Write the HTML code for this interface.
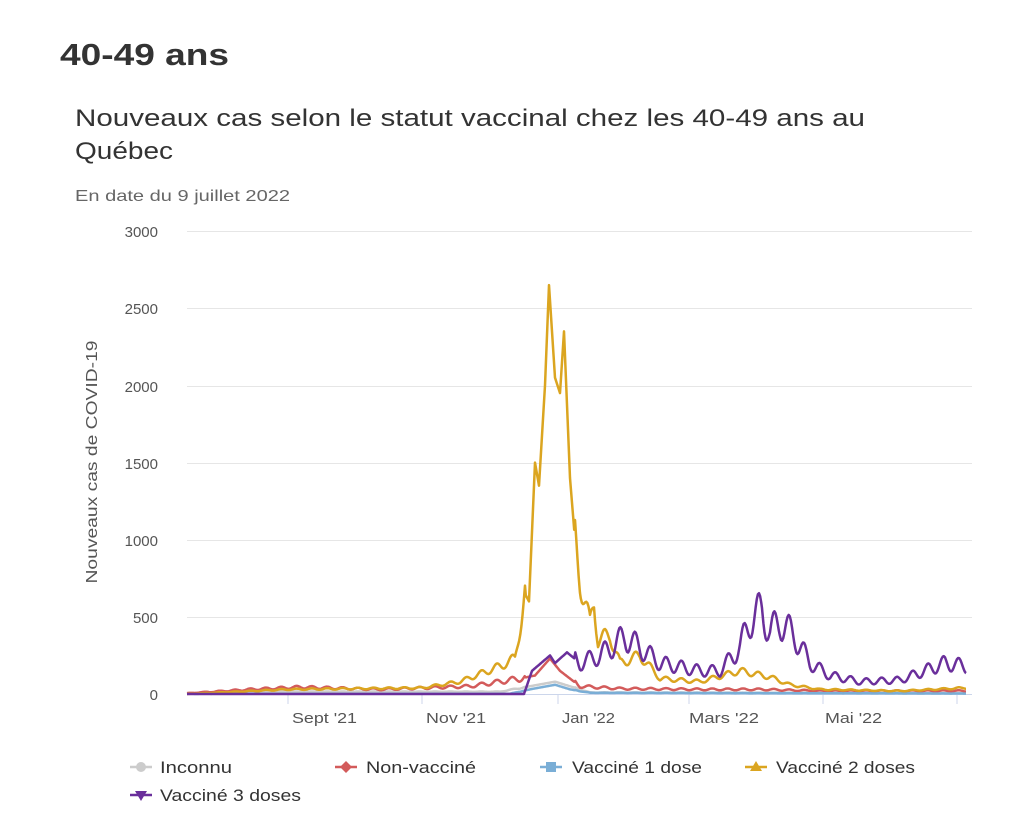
<!DOCTYPE html>
<html><head><meta charset="utf-8"><style>
body{margin:0;background:#fff;width:1012px;height:834px;overflow:hidden;font-family:"Liberation Sans","DejaVu Sans",sans-serif;}
svg text{font-family:"Liberation Sans","DejaVu Sans",sans-serif;}
</style></head><body>
<svg width="1012" height="834" xmlns="http://www.w3.org/2000/svg" id="s">
<text x="60" y="65" font-size="31" font-weight="bold" fill="#333" textLength="169" lengthAdjust="spacingAndGlyphs">40-49 ans</text>
<text x="75" y="126" font-size="24" fill="#333" textLength="790" lengthAdjust="spacingAndGlyphs">Nouveaux cas selon le statut vaccinal chez les 40-49 ans au</text>
<text x="75" y="159" font-size="24" fill="#333" textLength="98" lengthAdjust="spacingAndGlyphs">Québec</text>
<text x="75" y="201" font-size="16" fill="#666" textLength="215" lengthAdjust="spacingAndGlyphs">En date du 9 juillet 2022</text>
<g stroke="#e6e6e6" stroke-width="1">
<line x1="187" x2="972" y1="231.5" y2="231.5"/><line x1="187" x2="972" y1="308.5" y2="308.5"/>
<line x1="187" x2="972" y1="386.5" y2="386.5"/><line x1="187" x2="972" y1="463.5" y2="463.5"/>
<line x1="187" x2="972" y1="540.5" y2="540.5"/><line x1="187" x2="972" y1="617.5" y2="617.5"/>
</g>
<line x1="187" x2="972" y1="694.5" y2="694.5" stroke="#ccd6eb"/>
<g stroke="#ccd6eb"><line x1="288" x2="288" y1="694" y2="704"/><line x1="422" x2="422" y1="694" y2="704"/><line x1="558" x2="558" y1="694" y2="704"/><line x1="689" x2="689" y1="694" y2="704"/><line x1="823" x2="823" y1="694" y2="704"/><line x1="957" x2="957" y1="694" y2="704"/></g>
<g font-size="15" fill="#555" text-anchor="end">
<text x="158" y="237">3000</text><text x="158" y="314">2500</text><text x="158" y="392">2000</text>
<text x="158" y="469">1500</text><text x="158" y="546">1000</text><text x="158" y="623">500</text><text x="158" y="700">0</text>
</g>
<g font-size="15" fill="#555">
<text x="292" y="723" textLength="65" lengthAdjust="spacingAndGlyphs">Sept '21</text><text x="426" y="723" textLength="60" lengthAdjust="spacingAndGlyphs">Nov '21</text><text x="562" y="723" textLength="53" lengthAdjust="spacingAndGlyphs">Jan '22</text>
<text x="689" y="723" textLength="70" lengthAdjust="spacingAndGlyphs">Mars '22</text><text x="825" y="723" textLength="57" lengthAdjust="spacingAndGlyphs">Mai '22</text>
</g>
<text transform="translate(97,462) rotate(-90)" font-size="16" fill="#555" text-anchor="middle" textLength="243" lengthAdjust="spacingAndGlyphs">Nouveaux cas de COVID-19</text>
<g id="lines" fill="none" stroke-width="2.5" stroke-linejoin="round"></g>
<g font-size="17" fill="#333">
<line x1="130" x2="152" y1="767" y2="767" stroke="#ccc" stroke-width="2.5"/><circle cx="141" cy="767" r="5" fill="#ccc"/>
<text x="160" y="773" textLength="72" lengthAdjust="spacingAndGlyphs">Inconnu</text>
<line x1="335" x2="357" y1="767" y2="767" stroke="#d35b5b" stroke-width="2.5"/><path d="M346 761l6 6-6 6-6-6z" fill="#d35b5b"/>
<text x="366" y="773" textLength="110" lengthAdjust="spacingAndGlyphs">Non-vacciné</text>
<line x1="540" x2="562" y1="767" y2="767" stroke="#7aaed6" stroke-width="2.5"/><rect x="546" y="762" width="10" height="10" fill="#7aaed6"/>
<text x="572" y="773" textLength="130" lengthAdjust="spacingAndGlyphs">Vacciné 1 dose</text>
<line x1="745" x2="767" y1="767" y2="767" stroke="#dba520" stroke-width="2.5"/><path d="M756 761l6 10h-12z" fill="#dba520"/>
<text x="776" y="773" textLength="139" lengthAdjust="spacingAndGlyphs">Vacciné 2 doses</text>
<line x1="130" x2="152" y1="795" y2="795" stroke="#6a2f9b" stroke-width="2.5"/><path d="M141 801l6-10h-12z" fill="#6a2f9b"/>
<text x="160" y="801" textLength="141" lengthAdjust="spacingAndGlyphs">Vacciné 3 doses</text>
</g>
</svg>
<script>
function interp(k,x){for(let i=0;i<k.length-1;i++){if(x>=k[i][0]&&x<=k[i+1][0]){let t=(x-k[i][0])/(k[i+1][0]-k[i][0]);return k[i][1]+t*(k[i+1][1]-k[i][1]);}}return k[k.length-1][1];}
function path(k,amp,color){let xs=[];for(let x=187;x<=966;x+=1.1)xs.push(x);k.forEach(p=>xs.push(p[0]));xs.sort((a,b)=>a-b);let d="";for(const x of xs){let v=interp(k,x);let m=1+amp*Math.sin(x/15.4*2*Math.PI);if(x>525&&x<575)m=1;v*=m;if(v<0)v=0;let y=694-v*0.1543;d+=(d?"L":"M")+x.toFixed(1)+" "+y.toFixed(1);}
let p=document.createElementNS("http://www.w3.org/2000/svg","path");p.setAttribute("d",d);p.setAttribute("stroke",color);document.getElementById("lines").appendChild(p);}
path([[187,2],[260,15],[500,15],[530,50],[555,80],[570,50],[590,10],[966,5]],0.1,"#cccccc");
path([[187,5],[250,30],[300,45],[380,30],[470,50],[520,100],[535,120],[550,230],[560,150],[580,50],[620,35],[700,30],[760,30],[820,20],[966,20]],0.2,"#d35b5b");
path([[187,1],[510,2],[530,30],[555,60],[570,30],[590,8],[966,3]],0.1,"#7aaed6");
path([[187,0],[288,30],[422,40],[460,80],[500,180],[515,230],[525,650],[529,600],[535,1500],[539,1350],[545,2000],[549,2650],[555,2050],[560,1950],[564,2350],[570,1400],[575,1000],[580,750],[590,450],[594,600],[598,350],[610,380],[620,200],[640,250],[660,100],[700,80],[740,150],[770,110],[790,60],[820,30],[900,20],[966,40]],0.15,"#dba520");
path([[187,0],[524,0],[532,150],[550,250],[555,200],[567,270],[580,200],[600,250],[625,370],[640,300],[660,200],[700,150],[720,150],[740,300],[750,480],[762,540],[770,400],[780,470],[795,370],[810,200],[830,120],[860,80],[900,90],[945,200],[966,180]],0.25,"#6a2f9b");
</script>
</body></html>
